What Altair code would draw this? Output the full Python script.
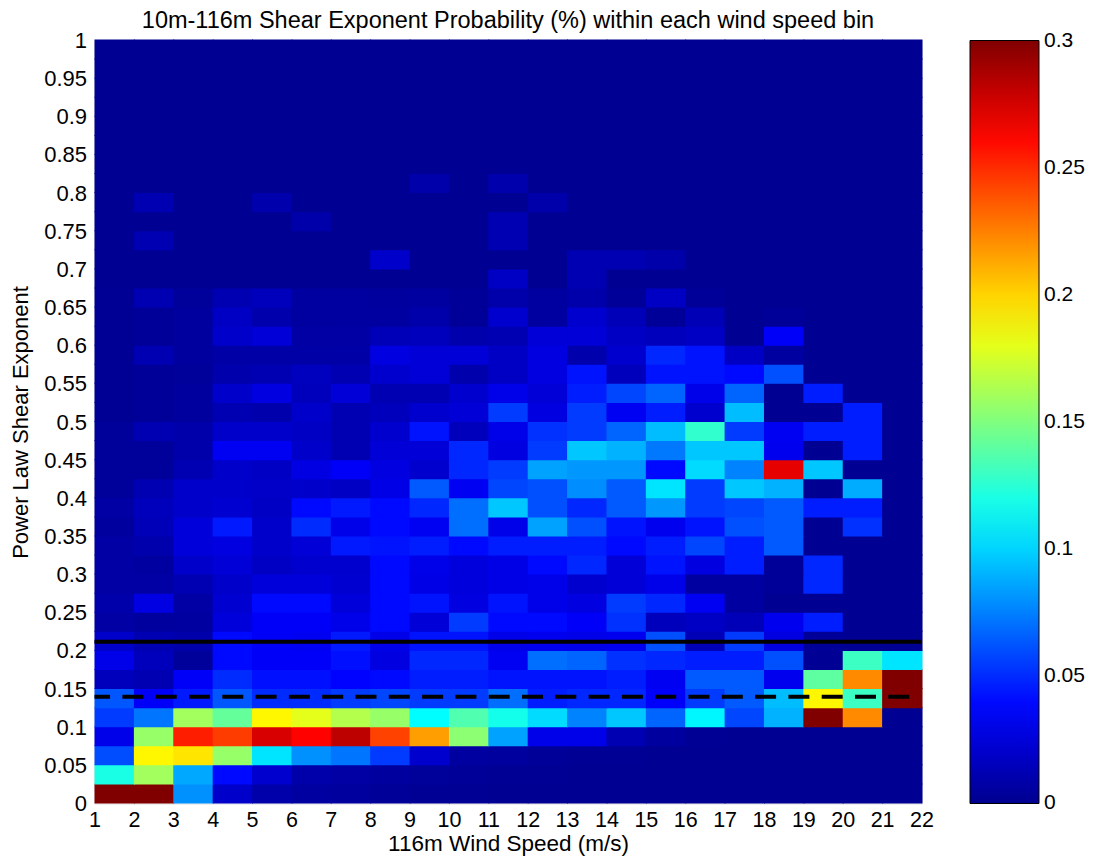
import altair as alt
import pandas as pd

# ---- bins -------------------------------------------------------------
wind_bin_start = [1, 2, 3, 4, 5, 6, 7, 8, 9, 10, 11, 12, 13, 14, 15, 16, 17, 18, 19, 20, 21]
wind_ticks = [1, 2, 3, 4, 5, 6, 7, 8, 9, 10, 11, 12, 13, 14, 15, 16, 17, 18, 19, 20, 21, 22]
shear_bin_start = [round(0.025 * i, 3) for i in range(40)]
shear_ticks = [0, 0.05, 0.1, 0.15, 0.2, 0.25, 0.3, 0.35, 0.4, 0.45, 0.5, 0.55, 0.6,
               0.65, 0.7, 0.75, 0.8, 0.85, 0.9, 0.95, 1]
color_ticks = [0, 0.05, 0.1, 0.15, 0.2, 0.25, 0.3]

# ---- probability (%) per shear bin (rows) and wind-speed bin (columns 1..21)
d = 0.001
p_0975 = [d] * 21
p_0950 = [d] * 21
p_0925 = [d] * 21
p_0900 = [d] * 21
p_0875 = [d] * 21
p_0850 = [d] * 21
p_0825 = [d] * 21
p_0800 = [d, d, d, d, d, d, d, d, 0.009, d, 0.010, d, d, d, d, d, d, d, d, d, d]
p_0775 = [d, 0.012, d, d, 0.010, d, d, d, d, d, d, 0.009, d, d, d, d, d, d, d, d, d]
p_0750 = [d, d, d, d, d, 0.009, d, d, d, d, 0.012, d, d, d, d, d, d, d, d, d, d]
p_0725 = [d, 0.012, d, d, d, d, d, d, d, d, 0.012, d, d, d, d, d, d, d, d, d, d]
p_0700 = [d, d, d, d, d, d, d, 0.020, d, d, d, d, 0.012, 0.012, 0.009, d, d, d, d, d, d]
p_0675 = [d, d, d, d, d, d, d, d, d, d, 0.018, d, 0.012, d, d, d, d, d, d, d, d]
p_0650 = [0.002, 0.012, 0.004, 0.012, 0.015, 0.006, 0.006, 0.005, 0.006, 0.003, 0.009, 0.006, 0.009, 0.003, 0.018, 0.003, d, d, d, d, d]
p_0625 = [0.002, 0.003, 0.005, 0.018, 0.010, 0.006, 0.006, 0.006, 0.009, 0.003, 0.021, 0.006, 0.021, 0.014, 0.003, 0.013, d, 0.003, d, d, d]
p_0600 = [0.002, 0.003, 0.005, 0.020, 0.024, 0.007, 0.007, 0.014, 0.015, 0.010, 0.012, 0.024, 0.024, 0.018, 0.015, 0.018, d, 0.035, d, d, d]
p_0575 = [0.002, 0.012, 0.005, 0.008, 0.008, 0.008, 0.008, 0.027, 0.024, 0.024, 0.018, 0.027, 0.010, 0.021, 0.049, 0.043, 0.018, 0.006, d, d, d]
p_0550 = [0.002, 0.003, 0.004, 0.010, 0.012, 0.016, 0.012, 0.021, 0.024, 0.010, 0.018, 0.027, 0.043, 0.015, 0.043, 0.043, 0.040, 0.061, d, d, d]
p_0525 = [0.002, 0.003, 0.005, 0.020, 0.027, 0.015, 0.024, 0.012, 0.012, 0.021, 0.030, 0.024, 0.046, 0.058, 0.067, 0.030, 0.067, d, 0.046, d, d]
p_0500 = [0.002, 0.003, 0.005, 0.012, 0.010, 0.020, 0.012, 0.015, 0.021, 0.024, 0.055, 0.027, 0.055, 0.033, 0.046, 0.021, 0.093, d, d, 0.046, d]
p_0475 = [0.004, 0.012, 0.009, 0.020, 0.020, 0.018, 0.012, 0.021, 0.043, 0.015, 0.030, 0.052, 0.055, 0.067, 0.093, 0.127, 0.055, 0.033, 0.046, 0.046, d]
p_0450 = [0.004, 0.004, 0.009, 0.033, 0.033, 0.020, 0.012, 0.024, 0.024, 0.049, 0.027, 0.055, 0.096, 0.090, 0.073, 0.096, 0.096, 0.032, d, 0.046, d]
p_0425 = [0.004, 0.004, 0.012, 0.020, 0.018, 0.028, 0.035, 0.027, 0.021, 0.049, 0.055, 0.085, 0.082, 0.082, 0.040, 0.102, 0.076, 0.270, 0.096, d, d]
p_0400 = [0.004, 0.012, 0.020, 0.020, 0.019, 0.020, 0.018, 0.029, 0.064, 0.033, 0.058, 0.061, 0.079, 0.064, 0.105, 0.055, 0.096, 0.090, d, 0.088, d]
p_0375 = [0.007, 0.015, 0.020, 0.022, 0.018, 0.040, 0.045, 0.040, 0.049, 0.070, 0.096, 0.061, 0.049, 0.064, 0.082, 0.055, 0.058, 0.064, 0.046, 0.046, d]
p_0350 = [0.005, 0.014, 0.025, 0.045, 0.020, 0.050, 0.030, 0.040, 0.033, 0.070, 0.030, 0.085, 0.061, 0.043, 0.032, 0.043, 0.061, 0.064, d, 0.052, d]
p_0325 = [0.007, 0.010, 0.025, 0.027, 0.020, 0.024, 0.045, 0.043, 0.046, 0.040, 0.046, 0.046, 0.046, 0.040, 0.046, 0.058, 0.046, 0.064, d, d, d]
p_0300 = [0.007, 0.006, 0.020, 0.024, 0.018, 0.021, 0.021, 0.040, 0.030, 0.026, 0.029, 0.040, 0.049, 0.024, 0.043, 0.027, 0.046, 0.003, 0.049, d, d]
p_0275 = [0.007, 0.007, 0.012, 0.020, 0.025, 0.025, 0.022, 0.040, 0.029, 0.026, 0.029, 0.030, 0.021, 0.024, 0.030, 0.006, 0.006, 0.003, 0.049, d, d]
p_0250 = [0.009, 0.028, 0.007, 0.022, 0.040, 0.040, 0.025, 0.040, 0.043, 0.027, 0.043, 0.030, 0.027, 0.055, 0.049, 0.033, 0.006, d, d, d, d]
p_0225 = [0.007, 0.005, 0.006, 0.025, 0.035, 0.035, 0.030, 0.040, 0.024, 0.055, 0.040, 0.040, 0.035, 0.052, 0.015, 0.018, 0.014, 0.032, 0.046, d, d]
p_0200 = [0.020, 0.012, 0.009, 0.040, 0.035, 0.033, 0.045, 0.030, 0.043, 0.043, 0.030, 0.032, 0.030, 0.032, 0.061, 0.013, 0.055, 0.027, 0.003, d, d]
p_0175 = [0.030, 0.015, 0.004, 0.040, 0.035, 0.035, 0.042, 0.027, 0.049, 0.049, 0.033, 0.070, 0.067, 0.052, 0.049, 0.046, 0.046, 0.061, 0.002, 0.130, 0.105]
p_0150 = [0.015, 0.012, 0.035, 0.050, 0.042, 0.042, 0.038, 0.040, 0.046, 0.046, 0.043, 0.043, 0.043, 0.046, 0.033, 0.064, 0.064, 0.032, 0.140, 0.222, 0.300]
p_0125 = [0.063, 0.035, 0.045, 0.063, 0.050, 0.050, 0.055, 0.058, 0.055, 0.055, 0.070, 0.046, 0.049, 0.049, 0.036, 0.055, 0.064, 0.093, 0.190, 0.130, 0.300]
p_0100 = [0.055, 0.072, 0.160, 0.142, 0.190, 0.180, 0.165, 0.157, 0.112, 0.136, 0.118, 0.102, 0.076, 0.096, 0.067, 0.110, 0.058, 0.090, 0.300, 0.222, d]
p_0075 = [0.030, 0.157, 0.254, 0.245, 0.274, 0.262, 0.282, 0.243, 0.216, 0.154, 0.085, 0.030, 0.030, 0.012, 0.005, 0.002, d, d, d, d, d]
p_0050 = [0.060, 0.190, 0.195, 0.157, 0.105, 0.080, 0.072, 0.055, 0.021, 0.006, 0.005, 0.003, 0.002, 0.002, d, d, d, d, d, d, d]
p_0025 = [0.120, 0.160, 0.087, 0.040, 0.021, 0.009, 0.007, 0.005, 0.004, 0.003, 0.002, 0.002, d, d, d, d, d, d, d, d, d]
p_0000 = [0.300, 0.300, 0.080, 0.020, 0.009, 0.006, 0.005, 0.003, 0.002, 0.002, d, d, d, d, d, d, d, d, d, d, d]

rows = [p_0000, p_0025, p_0050, p_0075, p_0100, p_0125, p_0150, p_0175, p_0200, p_0225,
        p_0250, p_0275, p_0300, p_0325, p_0350, p_0375, p_0400, p_0425, p_0450, p_0475,
        p_0500, p_0525, p_0550, p_0575, p_0600, p_0625, p_0650, p_0675, p_0700, p_0725,
        p_0750, p_0775, p_0800, p_0825, p_0850, p_0875, p_0900, p_0925, p_0950, p_0975]

solid_level = [0.212]
dashed_level = [0.14]

records = []
for i, row in enumerate(rows):
    for j, v in enumerate(row):
        records.append({
            "ws0": wind_bin_start[j], "ws1": wind_bin_start[j] + 1,
            "sh0": shear_bin_start[i], "sh1": round(shear_bin_start[i] + 0.025, 3),
            "prob": v,
        })
df = pd.DataFrame(records)

FONT = "Liberation Sans"

jet_domain = [0, 0.0375, 0.1125, 0.1875, 0.2625, 0.3]
jet_range = ["#00008F", "#0000FF", "#00FFFF", "#FFFF00", "#FF0000", "#800000"]
cscale = alt.Scale(domain=jet_domain, range=jet_range, interpolate="rgb", clamp=True)

# colorbar label positions kept a hair inside the ends so every label is centred on its value
eps = 1e-6
legend_values = [min(max(v, eps), 0.3 - eps) for v in color_ticks]

# colorbar geometry (relative to the plot area), used for the legend and its tick marks
CB_X0 = 875.5
CB_W = 69
CB_TICK = 6

xscale = alt.Scale(domain=[1, 22], nice=False, zero=False)
yscale = alt.Scale(domain=[0, 1], nice=False, zero=False)
cbscale = alt.Scale(domain=[0, 0.3], nice=False, zero=False)

yaxis = alt.Axis(values=shear_ticks, title="Power Law Shear Exponent",
                 labelExpr="format(datum.value, '~g')",
                 ticks=False, domain=False, grid=False,
                 labelFontSize=22, titleFontSize=22, labelFont=FONT, titleFont=FONT,
                 labelColor="black", titleColor="black", titleFontWeight="normal",
                 labelPadding=8, labelFlush=False, labelOverlap=False,
                 labelBaseline="middle",
                 titleX=-74, titleY=381.5, titleAngle=-90,
                 titleBaseline="middle", titleAlign="center")

xaxis = alt.Axis(values=wind_ticks, title="116m Wind Speed (m/s)",
                 ticks=False, domain=False, grid=False,
                 labelFontSize=21.5, titleFontSize=22.5, labelFont=FONT, titleFont=FONT,
                 labelColor="black", titleColor="black", titleFontWeight="normal",
                 labelPadding=6, labelFlush=False, labelOverlap=False,
                 titleY=28.5, titleBaseline="top")

heat = alt.Chart(df).mark_rect(x2Offset=1, y2Offset=-1).encode(
    x=alt.X("ws0:Q", scale=xscale, axis=xaxis),
    x2="ws1:Q",
    y=alt.Y("sh0:Q", scale=yscale, axis=yaxis),
    y2="sh1:Q",
    color=alt.Color("prob:Q", scale=cscale,
                    legend=alt.Legend(type="gradient", orient="none", legendX=CB_X0, legendY=0,
                                      direction="vertical", title=None,
                                      gradientLength=763, gradientThickness=CB_W,
                                      gradientStrokeColor="black", gradientStrokeWidth=1,
                                      values=legend_values,
                                      labelExpr="format(datum.value, '.2~f')",
                                      labelFontSize=21, labelFont=FONT, labelColor="black",
                                      labelOffset=5, labelOverlap=False, padding=0)),
)

solid = alt.Chart(pd.DataFrame({"lvl": solid_level})).mark_rule(
    color="black", strokeWidth=4).encode(y=alt.Y("lvl:Q", scale=yscale, axis=yaxis))
dashed = alt.Chart(pd.DataFrame({"lvl": dashed_level})).mark_rule(
    color="black", strokeWidth=4, strokeDash=[21, 12.3], strokeDashOffset=21.1
).encode(y=alt.Y("lvl:Q", scale=yscale, axis=yaxis))

main = alt.layer(heat, solid, dashed)

tick_df = pd.DataFrame({"t": color_ticks})
cb_ticks_left = alt.Chart(tick_df).mark_rule(color="black", strokeWidth=1).encode(
    y=alt.Y("t:Q", scale=cbscale, axis=None),
    x=alt.value(CB_X0), x2=alt.value(CB_X0 + CB_TICK))
cb_ticks_right = alt.Chart(tick_df).mark_rule(color="black", strokeWidth=1).encode(
    y=alt.Y("t:Q", scale=cbscale, axis=None),
    x=alt.value(CB_X0 + CB_W - CB_TICK), x2=alt.value(CB_X0 + CB_W))

chart = alt.layer(main, cb_ticks_left, cb_ticks_right).resolve_scale(y="independent").properties(
    width=827, height=763,
    title=alt.Title("10m-116m Shear Exponent Probability (%) within each wind speed bin",
                    font=FONT, fontSize=23.5, fontWeight="normal", color="black",
                    anchor="middle", frame="group", offset=-3),
    autosize=alt.AutoSizeParams(type="none"),
    padding={"left": 86.5, "top": 32.5, "right": 164.5, "bottom": 53},
).configure_view(stroke="black", strokeWidth=1).configure(background="white")

chart.save("out.html", embed_options={"renderer": "svg", "actions": False})
